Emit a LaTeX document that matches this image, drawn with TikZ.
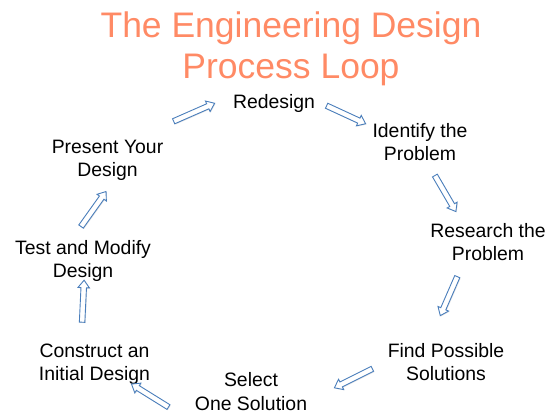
\documentclass[tikz,border=0pt]{standalone}
\usepackage{fontspec}
\setmainfont{Liberation Sans}
\usetikzlibrary{calc,shapes.arrows,shadows}
\definecolor{titleorange}{RGB}{255,138,101}
\definecolor{arrowblue}{RGB}{74,126,187}
\newcommand\barrow[2]{\path let \p1=($(#2)-(#1)$), \n1={veclen(\x1,\y1)} in (#1) -- (#2) node[blockarr, midway, sloped, allow upside down, minimum height=\n1] {};}
\begin{document}
\begin{tikzpicture}[x=1pt,y=-1pt,
  stage/.style={align=center, anchor=base, inner sep=0pt, font=\fontsize{19.4}{23.5}\selectfont},
  titletext/.style={align=center, anchor=base, inner sep=0pt, text=titleorange, font=\fontsize{35.5}{41}\selectfont},
  blockarr/.style={shape=single arrow, draw=arrowblue, fill=white, line width=0.9pt,
    inner xsep=0pt, inner ysep=2.3pt, minimum width=0pt,
    single arrow head extend=3pt, single arrow head indent=0pt,
    single arrow tip angle=75, drop shadow={opacity=0.2, shadow xshift=0.8pt, shadow yshift=-0.8pt}}]
\useasboundingbox (0,0) rectangle (546,415);
\node[titletext] (title) at (291,78) {The Engineering Design\\Process Loop};
\node[stage] (redesign) at (274,108) {Redesign};
\node[stage] (identify) at (420,160.5) {Identify the\\Problem};
\node[stage] (research) at (488,260.5) {Research the\\Problem};
\node[stage] (find) at (446,380.5) {Find Possible\\Solutions};
\node[stage] (select) at (251,410) {Select\\One Solution};
\node[stage] (construct) at (94.5,380.5) {Construct an\\Initial Design};
\node[stage] (test) at (83,277.5) {Test and Modify\\Design};
\node[stage] (present) at (107.5,176.5) {Present Your\\Design};
\coordinate (a1t) at (172,122); \coordinate (a1h) at (213,104);
\coordinate (a2t) at (325,105); \coordinate (a2h) at (364,123);
\coordinate (a3t) at (434,174); \coordinate (a3h) at (455,210);
\coordinate (a4t) at (458,275); \coordinate (a4h) at (441,314);
\coordinate (a5t) at (374,368); \coordinate (a5h) at (336,387);
\coordinate (a6t) at (170,408); \coordinate (a6h) at (133,385);
\coordinate (a7t) at (82,324); \coordinate (a7h) at (84,282);
\coordinate (a8t) at (80,228); \coordinate (a8h) at (105,193);
\barrow{a1t}{a1h}
\barrow{a2t}{a2h}
\barrow{a3t}{a3h}
\barrow{a4t}{a4h}
\barrow{a5t}{a5h}
\barrow{a6t}{a6h}
\barrow{a7t}{a7h}
\barrow{a8t}{a8h}
\end{tikzpicture}
\end{document}
